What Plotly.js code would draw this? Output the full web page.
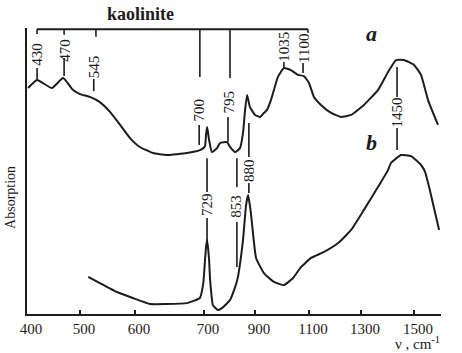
<!DOCTYPE html>
<html><head><meta charset="utf-8">
<script src="https://cdn.plot.ly/plotly-3.0.1.min.js"></script>
<style>html,body{margin:0;padding:0;background:#fff}</style>
</head><body><div id="chart" style="width:462px;height:353px"></div>
<script>
// Non-linear wavenumber axis of the original figure (tick value -> axis position)
const axisWn = [400, 500, 600, 700, 900, 1100, 1300, 1500, 1600];
const axisPos = [0, 53, 108, 177, 228, 282, 334, 387, 414];
const axisTickText = ['400', '500', '600', '700', '900', '1100', '1300', '1500', ' '];

// Curve a
const waveA = [402,419,447,468,487,500,518,536,555,573,591,607,626,646,675,694,699,704,708,712,716,720,731,751,763,790,802,822,841,853,861,869,880,900,919,933,944,959,985,1007,1033,1059,1081,1100,1119,1146,1185,1223,1262,1311,1364,1402,1432,1462,1500,1526,1552,1589];
const absA = [79.0,81.8,79.0,82.5,78.3,76.9,75.9,74.1,70.6,66.1,61.5,58.4,56.3,55.6,56.3,57.3,58.0,58.7,62.6,65.4,63.3,60.8,56.6,58.0,59.8,60.1,58.4,56.6,58.0,63.3,71.3,76.6,72.4,69.6,68.9,70.3,71.3,74.8,82.9,86.0,85.3,83.6,83.2,80.8,75.9,73.1,70.3,68.9,69.6,73.1,78.3,84.6,88.8,88.8,87.1,83.6,74.8,66.1];

// Curve b
const waveB = [515,536,567,596,622,646,675,694,699,704,708,712,716,720,724,735,755,775,802,822,833,845,853,865,873,879,884,904,933,970,1007,1041,1070,1108,1158,1212,1262,1311,1364,1402,1413,1451,1489,1526,1541,1556,1593];
const absB = [13.0,10.8,7.7,5.6,3.5,3.5,3.8,5.6,10.8,18.9,23.5,25.9,23.0,18.9,11.9,3.1,1.4,2.4,4.9,9.4,12.9,20.0,25.9,38.1,41.6,38.5,35.3,19.6,14.3,11.2,10.1,12.6,16.4,19.6,21.7,24.8,29.4,36.4,44.4,50.3,52.8,55.6,55.2,52.1,49.7,44.4,29.4];

// Peak labels
const peakText = ['430','470','545','700','795','1035','1100','1450','729','853','880'];
const peakWave = [419, 470, 525, 693, 798, 1007, 1081, 1436, 712, 825, 876];
const peakY = [90.7, 92.1, 86.5, 71.2, 74.3, 93.4, 93.0, 70.5, 38.1, 37.8, 50.3];

// Leader lines: wavenumber, from, to
const leadWave = [419, 419, 470, 470, 529, 525, 694, 693, 802, 794, 1007, 1096, 1078, 1436, 1436, 712, 712, 829, 829, 876, 876];
const leadY0 =   [99.6, 86.0, 99.6, 89.5, 99.6, 82.2, 99.6, 66.1, 99.6, 68.9, 88.1, 99.6, 87.8, 86.4, 65.0, 54.5, 33.6, 54.5, 32.2, 66.8, 45.8];
const leadY1 =   [97.9, 81.8, 97.6, 83.2, 96.9, 77.9, 82.9, 59.1, 82.5, 60.1, 86.4, 98.3, 84.3, 75.9, 57.3, 42.7, 24.8, 44.4, 16.4, 54.9, 42.3];
const bracketWave = [419, 1096];
const bracketY = 99.6;

function X(w) {
  for (let i = 0; i < axisWn.length - 1; i++) {
    if (w <= axisWn[i + 1] || i === axisWn.length - 2) {
      const t = (w - axisWn[i]) / (axisWn[i + 1] - axisWn[i]);
      return axisPos[i] + t * (axisPos[i + 1] - axisPos[i]);
    }
  }
}

const serif = '"Liberation Serif", "Times New Roman", serif';
const ink = '#1c1c1c';

const traces = [
  {x: waveA.map(X), y: absA, mode: 'lines', line: {color: ink, width: 2, shape: 'spline', smoothing: 0.4}, hoverinfo: 'skip', showlegend: false},
  {x: waveB.map(X), y: absB, mode: 'lines', line: {color: ink, width: 2, shape: 'spline', smoothing: 0.4}, hoverinfo: 'skip', showlegend: false}
];

const shapes = [];
shapes.push({type: 'line', xref: 'x', yref: 'y', x0: X(bracketWave[0]), x1: X(bracketWave[1]), y0: bracketY, y1: bracketY, line: {color: ink, width: 2}});
for (let i = 0; i < leadWave.length; i++) {
  shapes.push({type: 'line', xref: 'x', yref: 'y', x0: X(leadWave[i]), x1: X(leadWave[i]), y0: leadY0[i], y1: leadY1[i], line: {color: ink, width: 1.6}});
}

const annotations = peakText.map((t, i) => ({
  text: t, x: X(peakWave[i]), y: peakY[i], xref: 'x', yref: 'y', showarrow: false,
  textangle: -90, xanchor: 'center', yanchor: 'middle', font: {family: serif, size: 15, color: ink}
}));
annotations.push({text: '<b>kaolinite</b>', xref: 'paper', yref: 'paper', x: 0.275, y: 1.049, showarrow: false, xanchor: 'center', yanchor: 'middle', font: {family: serif, size: 18, color: ink}});
annotations.push({text: '<b><i>a</i></b>', xref: 'paper', yref: 'paper', x: 0.831, y: 0.9825, showarrow: false, xanchor: 'center', yanchor: 'middle', font: {family: serif, size: 22, color: ink}});
annotations.push({text: '<b><i>b</i></b>', xref: 'paper', yref: 'paper', x: 0.831, y: 0.598, showarrow: false, xanchor: 'center', yanchor: 'middle', font: {family: serif, size: 22, color: ink}});
annotations.push({text: 'ν , cm<sup>-1</sup>', xref: 'paper', yref: 'paper', x: 0.944, y: -0.101, showarrow: false, xanchor: 'center', yanchor: 'middle', font: {family: serif, size: 15, color: ink}});
annotations.push({text: 'Absorption', xref: 'paper', yref: 'paper', x: -0.0386, y: 0.406, showarrow: false, textangle: -90, xanchor: 'center', yanchor: 'middle', font: {family: serif, size: 14, color: ink}});

const layout = {
  width: 462, height: 353,
  margin: {l: 27, r: 21, t: 28, b: 39, pad: 0},
  paper_bgcolor: '#fff', plot_bgcolor: '#fff',
  font: {family: serif, color: ink},
  xaxis: {
    range: [axisPos[0], axisPos[axisPos.length - 1]], tickmode: 'array',
    tickvals: axisWn.map(X), ticktext: axisTickText,
    ticks: 'inside', ticklen: 4, tickwidth: 1.5, tickcolor: ink,
    ticklabelshift: 4,
    showline: true, linecolor: ink, linewidth: 2, showgrid: false, zeroline: false,
    tickfont: {family: serif, size: 15, color: ink}, fixedrange: true
  },
  yaxis: {
    range: [0, 100], showticklabels: false, ticks: '', showline: true, linecolor: ink, linewidth: 2,
    showgrid: false, zeroline: false, fixedrange: true
  },
  shapes: shapes, annotations: annotations, showlegend: false
};

Plotly.newPlot('chart', traces, layout, {staticPlot: true, displayModeBar: false});
</script></body></html>
